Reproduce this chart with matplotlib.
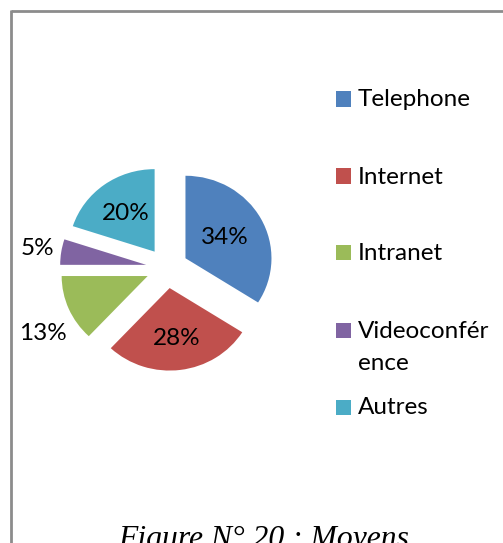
import matplotlib
matplotlib.use("Agg")
import matplotlib.pyplot as plt
import numpy as np
from matplotlib.lines import Line2D
from matplotlib.patches import Rectangle

# ---- data ----
categories = ["Telephone", "Internet", "Intranet", "Videoconférence", "Autres"]
legend_labels = ["Telephone", "Internet", "Intranet", "Videoconfér\nence", "Autres"]
values = [34, 28, 13, 5, 20]
caption = "Figure N° 20 : Moyens"

# ---- style ----
colors = ["#4F81BD", "#C0504D", "#9BBB59", "#8064A2", "#4BACC6"]
label_dist = [0.52, 0.615, 1.405, 1.275, 0.575]
label_turn = [0, 0, 6.6, 0, 0]
W, H = 503, 543
cx, cy, rx, ry = 167, 268, 86, 82.5
FONT = "Lato"
FS = 17.5

fig = plt.figure(figsize=(W / 100, H / 100), dpi=100)
fig.patch.set_facecolor("white")

ax = fig.add_axes([0, 0, 1, 1])
wedges, texts, autotexts = ax.pie(
    values, colors=colors, startangle=90, counterclock=False,
    explode=[0.245] * len(values), radius=1, center=(0, 0),
    autopct=lambda p: f"{p:.0f}%", pctdistance=0.6,
    textprops=dict(fontsize=FS, family=FONT, color="black"),
    wedgeprops=dict(linewidth=0),
)
for w, t, d, turn in zip(wedges, autotexts, label_dist, label_turn):
    ang = np.deg2rad((w.theta1 + w.theta2) / 2 + turn)
    c = w.center
    t.set_position((c[0] + d * np.cos(ang), c[1] + d * np.sin(ang)))
    t.set_ha("center")
    t.set_va("center")
ax.set_aspect("auto")
ax.set_xlim(-cx / rx, (W - cx) / rx)
ax.set_ylim(-(H - cy) / ry, cy / ry)
ax.axis("off")

# ---- legend (manual, Excel-like spacing) ----
lx, ly0, step, sq = 336, 99, 77, 15
for i, (lab, col) in enumerate(zip(legend_labels, colors)):
    yc = ly0 + i * step
    fig.add_artist(Rectangle((lx / W, 1 - (yc + sq / 2) / H), sq / W, sq / H,
                             transform=fig.transFigure, facecolor=col,
                             edgecolor="none"))
    for k, line in enumerate(lab.split("\n")):
        fig.text(358 / W, 1 - (yc + 7.5 + k * 32) / H, line, ha="left",
                 va="baseline", fontsize=FS, family=FONT, color="black")

# ---- border ----
bc = "#8C8C8C"
fig.add_artist(Line2D([10.5 / W, 1.0], [1 - 10.5 / H] * 2,
                      transform=fig.transFigure, color=bc, lw=2.0,
                      solid_capstyle="butt"))
fig.add_artist(Line2D([10.5 / W] * 2, [1 - 9.5 / H, 0],
                      transform=fig.transFigure, color=bc, lw=2.0,
                      solid_capstyle="butt"))

# ---- caption (cut off at the bottom, as in the reference) ----
fig.text(264 / W, -4 / H, caption, ha="center", va="baseline",
         fontsize=22.75, family="Liberation Serif", style="italic",
         color="black")

fig.savefig("out.png", dpi=100, facecolor="white")
